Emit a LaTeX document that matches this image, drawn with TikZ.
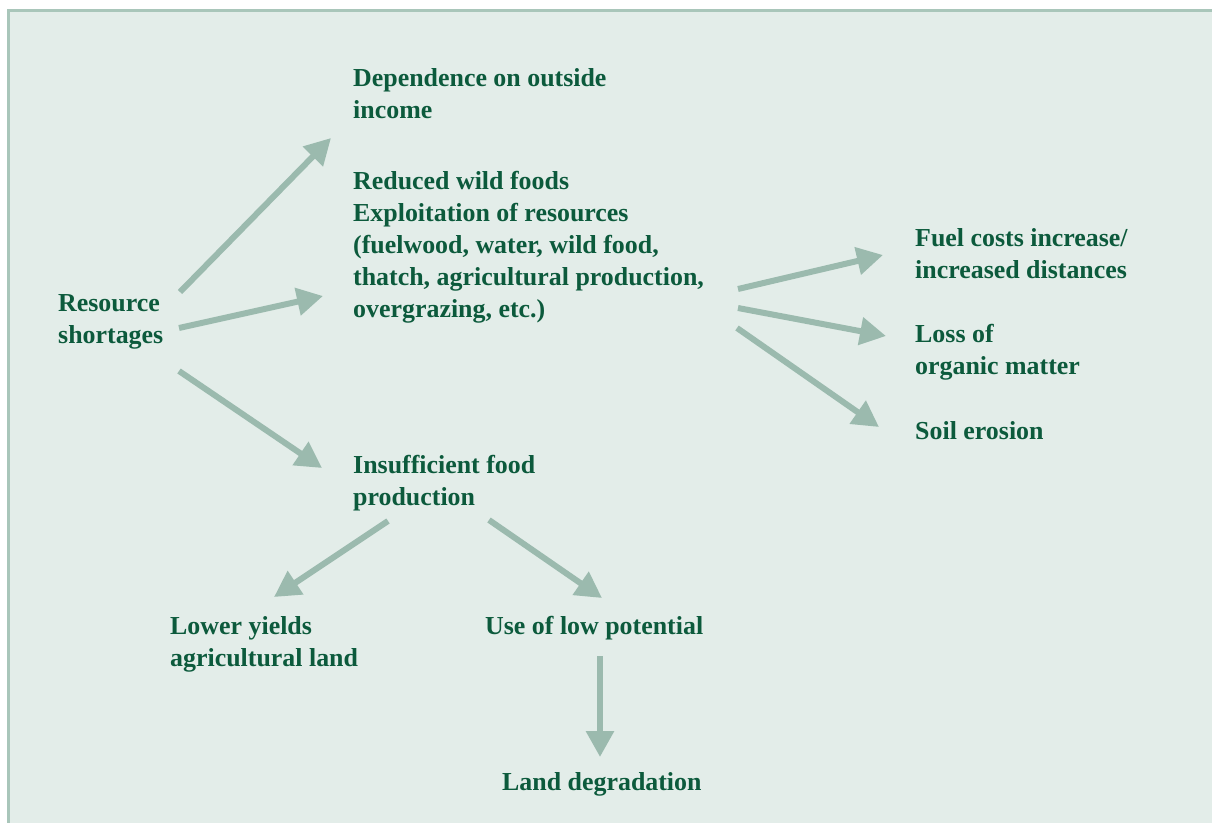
\documentclass[tikz,border=0pt]{standalone}
\usepackage{fontspec}
\setmainfont{Liberation Serif}
\usetikzlibrary{arrows.meta}
\definecolor{panel}{HTML}{E3EDE9}
\definecolor{rule}{HTML}{A9C6BA}
\definecolor{flowc}{HTML}{9BBAAE}
\definecolor{ink}{HTML}{0C5A3C}
\tikzset{
  % multi-line labels sit on the baseline of their last line
  lbl/.style={anchor=base west, inner sep=0pt, align=left, text=ink,
    font=\bfseries\fontsize{26}{32}\selectfont},
  flow/.style={draw=flowc, line width=6bp,
    -{Triangle[length=26bp,width=27bp]}},
}
\begin{document}
\begin{tikzpicture}[x=1bp,y=-1bp]
  % panel and its top/left rule
  \useasboundingbox (0,0) rectangle (1212,823);
  \fill[panel] (8,10) rectangle (1212,823);
  \draw[rule, line width=3bp] (8.5,823) -- (8.5,10.5) -- (1212,10.5);

  % labels
  \node[lbl] (res)   at (58,343)  {Resource\\shortages};
  \node[lbl] (dep)   at (353,118) {Dependence on outside\\income};
  \node[lbl] (expl)  at (353,317) {Reduced wild foods\\Exploitation of resources\\(fuelwood, water, wild food,\\thatch, agricultural production,\\overgrazing, etc.)};
  \node[lbl] (fuel)  at (915,278) {Fuel costs increase/\\increased distances};
  \node[lbl] (loss)  at (915,374) {Loss of\\organic matter};
  \node[lbl] (soil)  at (915,439) {Soil erosion};
  \node[lbl] (insuf) at (353,505) {Insufficient food\\production};
  \node[lbl] (lower) at (170,666) {Lower yields\\agricultural land};
  \node[lbl] (use)   at (485,634) {Use of low potential};
  \node[lbl] (land)  at (502,790) {Land degradation};

  % connector end points
  \coordinate (r1) at (180,292); \coordinate (d1) at (331,138);
  \coordinate (r2) at (179,328); \coordinate (e1) at (323,296);
  \coordinate (r3) at (179,371); \coordinate (i1) at (322,468);
  \coordinate (e2) at (738,289); \coordinate (f1) at (883,255);
  \coordinate (e3) at (738,308); \coordinate (l1) at (886,336);
  \coordinate (e4) at (737,328); \coordinate (s1) at (879,427);
  \coordinate (i2) at (388,521); \coordinate (w1) at (274,597);
  \coordinate (i3) at (489,520); \coordinate (u1) at (602,598);
  \coordinate (u2) at (600,656); \coordinate (g1) at (600,757);

  % connectors
  \draw[flow] (r1) -- (d1);
  \draw[flow] (r2) -- (e1);
  \draw[flow] (r3) -- (i1);
  \draw[flow] (e2) -- (f1);
  \draw[flow] (e3) -- (l1);
  \draw[flow] (e4) -- (s1);
  \draw[flow] (i2) -- (w1);
  \draw[flow] (i3) -- (u1);
  \draw[flow] (u2) -- (g1);
\end{tikzpicture}
\end{document}
